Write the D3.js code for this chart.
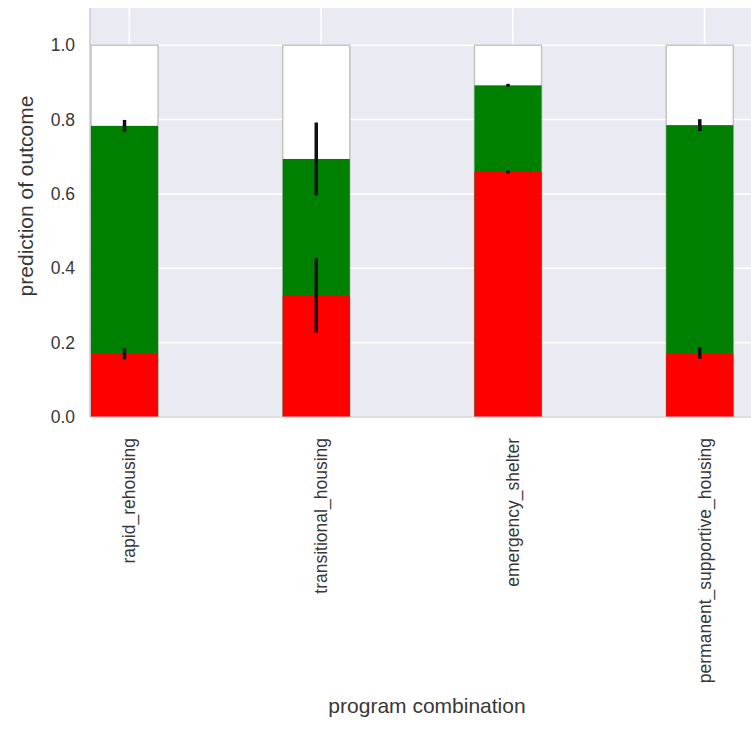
<!DOCTYPE html>
<html><head><meta charset="utf-8">
<script src="https://cdn.jsdelivr.net/npm/d3@7"></script>
<style>body{margin:0;background:#fff;} text{font-family:"Liberation Sans",Arial,sans-serif;fill:#383838;}</style>
</head><body><svg id="c" width="751" height="747"></svg>
<script>
const categories = ["rapid_rehousing","transitional_housing","emergency_shelter","permanent_supportive_housing"];
const totalValues = [1.0, 1.0, 1.0, 1.0];
const greenValues = [0.783, 0.694, 0.892, 0.785];
const greenErrors = [0.016, 0.098, 0.004, 0.016];
const redValues = [0.170, 0.327, 0.659, 0.172];
const redErrors = [0.015, 0.100, 0.004, 0.015];
const yTicks = [0.0, 0.2, 0.4, 0.6, 0.8, 1.0];

const svg = d3.select("#c");
const L = 90, R = 764, T = 8, B = 417;
const barW = 0.35, tickOff = 0.2;
const x = d3.scaleLinear().domain([-0.005, 3.51]).range([L, R]);
const y = d3.scaleLinear().domain([0, 1.1]).range([B, T]);

svg.append("clipPath").attr("id","pc").append("rect").attr("x",L).attr("y",T).attr("width",R-L).attr("height",B-T);
const g = svg.append("g").attr("clip-path","url(#pc)");
g.append("rect").attr("x",L).attr("y",T).attr("width",R-L).attr("height",B-T).attr("fill","#eaeaf2");
// grid
g.selectAll(".gy").data(yTicks).enter().append("line")
  .attr("x1",L).attr("x2",R).attr("y1",d=>y(d)).attr("y2",d=>y(d)).attr("stroke","#fff").attr("stroke-width",1.6);
g.selectAll(".gx").data(categories).enter().append("line")
  .attr("x1",(d,i)=>x(i+tickOff)).attr("x2",(d,i)=>x(i+tickOff)).attr("y1",T).attr("y2",B).attr("stroke","#fff").attr("stroke-width",1.6);

// bars
g.selectAll(".bw").data(totalValues).enter().append("rect")
  .attr("x",(d,i)=>x(i)).attr("width",x(barW)-x(0)).attr("y",d=>y(d)).attr("height",d=>B-y(d))
  .attr("fill","#fff").attr("stroke","#c4c4c4").attr("stroke-width",1.5);
g.selectAll(".bg").data(greenValues).enter().append("rect")
  .attr("x",(d,i)=>x(i)).attr("width",x(barW)-x(0)).attr("y",d=>y(d)).attr("height",d=>B-y(d))
  .attr("fill","#008000");
g.selectAll(".br").data(redValues).enter().append("rect")
  .attr("x",(d,i)=>x(i)).attr("width",x(barW)-x(0)).attr("y",d=>y(d)).attr("height",d=>B-y(d))
  .attr("fill","#ff0000");
// error bars
function errs(vals, es){
  g.selectAll(null).data(vals).enter().append("line")
    .attr("x1",(d,i)=>x(i+barW/2)).attr("x2",(d,i)=>x(i+barW/2))
    .attr("y1",(d,i)=>y(d-es[i])).attr("y2",(d,i)=>y(d+es[i]))
    .attr("stroke","#111").attr("stroke-width",3.5);
}
errs(greenValues, greenErrors);
errs(redValues, redErrors);

// spines
svg.append("line").attr("x1",L).attr("x2",L).attr("y1",T).attr("y2",B).attr("stroke","#c0c0c8").attr("stroke-width",1.2);
svg.append("line").attr("x1",L).attr("x2",R).attr("y1",B).attr("y2",B).attr("stroke","#c0c0c8").attr("stroke-width",1.2);

// y tick labels
svg.selectAll(".yt").data(yTicks).enter().append("text")
  .attr("x",75).attr("y",d=>y(d)).attr("dy","0.35em").attr("text-anchor","end")
  .style("font-size","17.5px").text(d=>d.toFixed(1));
// x tick labels
svg.selectAll(".xt").data(categories).enter().append("text")
  .attr("transform",(d,i)=>`translate(${x(i+tickOff)},438) rotate(-90)`)
  .attr("dy","0.35em").attr("text-anchor","end")
  .style("font-size","17.5px").text(d=>d);
// axis labels
svg.append("text").attr("transform",`translate(33,196) rotate(-90)`).attr("text-anchor","middle")
  .style("font-size","21px").text("prediction of outcome");
svg.append("text").attr("x",427).attr("y",713).attr("text-anchor","middle")
  .style("font-size","21px").text("program combination");
</script></body></html>
